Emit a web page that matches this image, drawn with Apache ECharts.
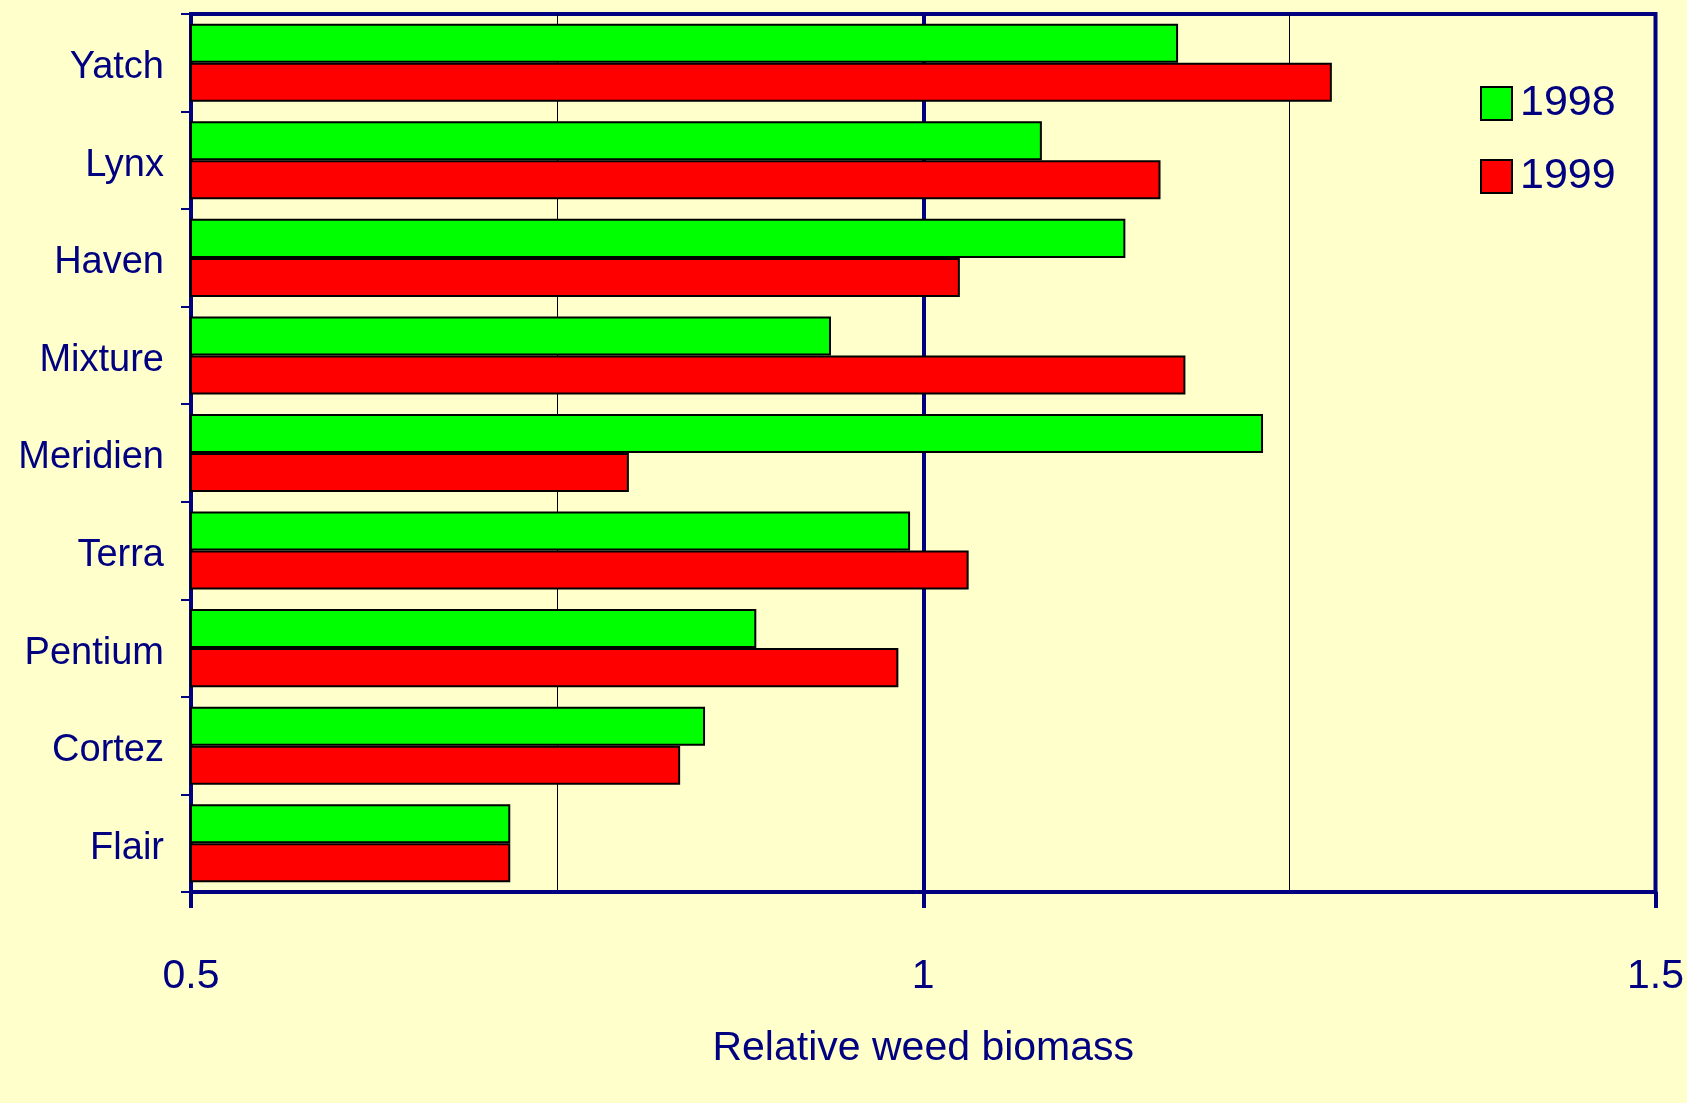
<!DOCTYPE html>
<html>
<head>
<meta charset="utf-8">
<script src="https://cdn.jsdelivr.net/npm/echarts@6/dist/echarts.min.js"></script>
<style>
  html, body { margin: 0; padding: 0; background: #ffffcc; }
  #chart { width: 1687px; height: 1103px; }
</style>
</head>
<body>
<div id="chart"></div>
<script>
// varieties, top to bottom
const varieties = ['Yatch', 'Lynx', 'Haven', 'Mixture', 'Meridien', 'Terra', 'Pentium', 'Cortez', 'Flair']
const years = ['1998', '1999']
const biomass1998 = [1.174, 1.081, 1.138, 0.937, 1.232, 0.991, 0.886, 0.851, 0.718]
const biomass1999 = [1.279, 1.162, 1.025, 1.179, 0.799, 1.031, 0.983, 0.834, 0.718]
const xTicks = [0.5, 1, 1.5]

const navy = '#000080'
const font = '"Liberation Sans", Arial, sans-serif'

const chart = echarts.init(document.getElementById('chart'))

chart.setOption({
  backgroundColor: '#ffffcc',
  animation: false,
  textStyle: { fontFamily: font, color: navy },
  legend: {
    data: years,
    orient: 'vertical',
    left: 1475,
    top: 77,
    itemWidth: 31,
    itemHeight: 33,
    itemGap: 30,
    icon: 'rect',
    itemStyle: { borderColor: '#000', borderWidth: 2 },
    textStyle: { fontSize: 43, color: navy, fontFamily: font, padding: [0, 0, 0, 3] }
  },
  grid: {
    left: 191,
    right: 31,
    top: 14,
    bottom: 211,
    show: true,
    borderColor: navy,
    borderWidth: 4,
    backgroundColor: 'transparent'
  },
  xAxis: {
    type: 'value',
    min: 0.5,
    max: 1.5,
    interval: 0.5,
    name: 'Relative weed biomass',
    nameLocation: 'middle',
    nameGap: 136,
    nameTextStyle: { fontSize: 41, color: navy, fontFamily: font },
    axisLine: { show: true, lineStyle: { color: navy, width: 4 } },
    axisTick: { show: true, length: 16, lineStyle: { color: navy, width: 4 } },
    axisLabel: {
      fontSize: 41,
      color: navy,
      margin: 64,
      formatter: v => (xTicks.indexOf(v) >= 0 ? String(v) : '')
    },
    splitLine: { show: true, showMinLine: false, showMaxLine: false, lineStyle: { color: navy, width: 4 } },
    minorTick: { show: false, splitNumber: 2 },
    minorSplitLine: { show: true, lineStyle: { color: '#000', width: 1 } }
  },
  yAxis: {
    type: 'category',
    inverse: true,
    data: varieties,
    axisLine: { show: true, lineStyle: { color: navy, width: 4 } },
    axisTick: { show: true, length: 10, lineStyle: { color: navy, width: 2 } },
    axisLabel: {
      margin: 27,
      formatter: v => '{v|' + v + '}',
      rich: { v: { fontSize: 38, color: navy, fontFamily: font, padding: [10, 0, 0, 0] } }
    }
  },
  series: [
    {
      name: years[0],
      type: 'bar',
      data: biomass1998,
      barGap: '0%',
      barCategoryGap: '20%',
      itemStyle: { color: '#00ff00', borderColor: '#000', borderWidth: 2 }
    },
    {
      name: years[1],
      type: 'bar',
      data: biomass1999,
      barGap: '0%',
      barCategoryGap: '20%',
      itemStyle: { color: '#ff0000', borderColor: '#000', borderWidth: 2 }
    }
  ]
})
</script>
</body>
</html>
